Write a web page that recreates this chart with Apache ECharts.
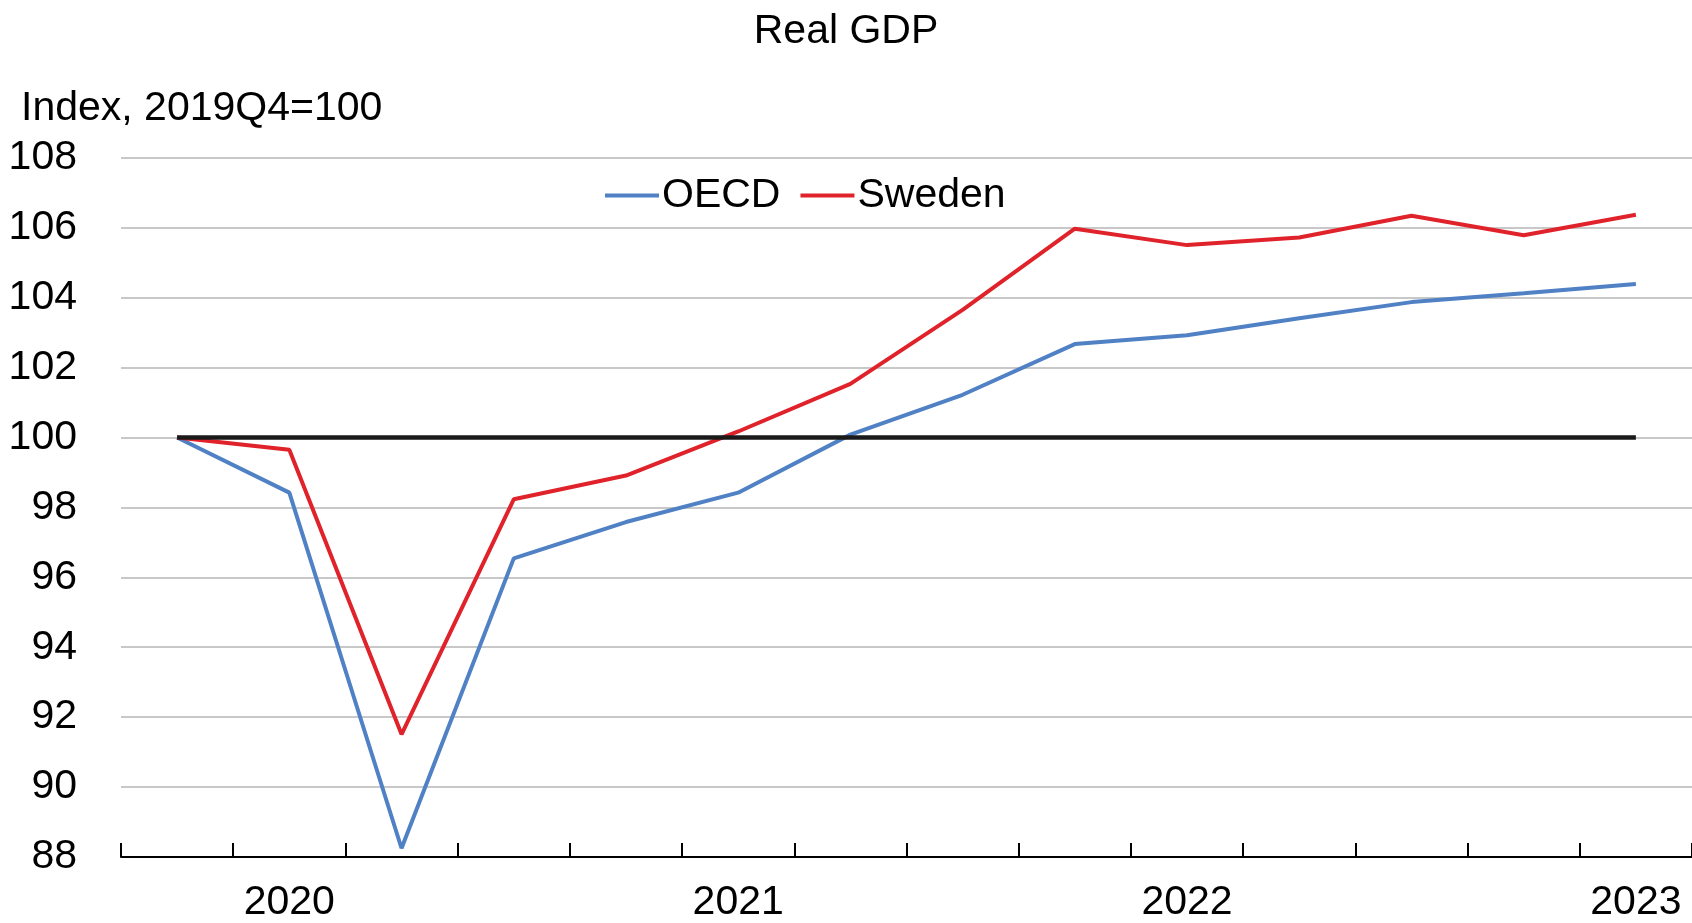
<!DOCTYPE html>
<html>
<head>
<meta charset="utf-8">
<title>Real GDP</title>
<script src="https://cdn.jsdelivr.net/npm/echarts@6/dist/echarts.min.js"></script>
<style>
  html, body { margin: 0; padding: 0; background: #fff; }
  #myChart { width: 1692px; height: 923px; }
</style>
</head>
<body>
<div id="myChart"></div>
<script>
const quarters = ['2019Q4', '2020Q1', '2020Q2', '2020Q3', '2020Q4', '2021Q1', '2021Q2',
  '2021Q3', '2021Q4', '2022Q1', '2022Q2', '2022Q3', '2022Q4', '2023Q1']
const oecd = [100, 98.42, 88.25, 96.54, 97.58, 98.42, 100.08, 101.22, 102.67, 102.92, 103.41, 103.87, 104.12, 104.39]
const sweden = [100, 99.65, 91.51, 98.23, 98.91, 100.17, 101.53, 103.65, 105.97, 105.5, 105.72, 106.34, 105.78, 106.37]
const baseline = [100, 100, 100, 100, 100, 100, 100, 100, 100, 100, 100, 100, 100, 100]

// Arial Narrow is not installed, so fall back to a plain sans at a smaller size
const font = '"Liberation Sans Narrow", "Arial Narrow", "Liberation Sans", Arial, sans-serif'
const fontSize = 41

const myChart = echarts.init(document.getElementById('myChart'))
const option = {
  animation: false,
  textStyle: { fontFamily: font },
  title: [
    {
      text: 'Real GDP',
      left: 'center',
      top: 6,
      textStyle: { fontFamily: font, fontSize: fontSize, fontWeight: 'normal', color: '#000' }
    },
    {
      text: 'Index, 2019Q4=100',
      left: 16,
      top: 83,
      textStyle: { fontFamily: font, fontSize: fontSize, fontWeight: 'normal', color: '#000' }
    }
  ],
  legend: {
    data: ['OECD', 'Sweden'],
    left: 600,
    top: 170,
    itemWidth: 54,
    itemHeight: 4,
    itemGap: 20,
    icon: 'rect',
    textStyle: { fontFamily: font, fontSize: fontSize, color: '#000', padding: [0, 0, 0, -2] }
  },
  grid: {
    left: 121,
    right: 0,
    top: 157.7,
    bottom: 65.3,
    containLabel: false
  },
  xAxis: {
    type: 'category',
    data: quarters,
    boundaryGap: true,
    axisLine: { show: true, lineStyle: { color: '#000', width: 2 } },
    axisTick: { show: true, inside: true, length: 14, interval: 0, lineStyle: { color: '#000', width: 2 } },
    axisLabel: {
      interval: function (index, value) { return value.endsWith('Q1') },
      formatter: function (value) { return value.slice(0, 4) },
      fontFamily: font,
      fontSize: fontSize,
      color: '#000',
      margin: 25
    }
  },
  yAxis: {
    type: 'value',
    min: 88,
    max: 108,
    interval: 2,
    axisLine: { show: false },
    axisTick: { show: false },
    splitLine: { lineStyle: { color: '#c8c8c8', width: 2 } },
    axisLabel: { fontFamily: font, fontSize: fontSize, color: '#000', margin: 44 }
  },
  series: [
    {
      name: 'OECD',
      type: 'line',
      data: oecd,
      color: '#4f81c4',
      symbol: 'none',
      lineStyle: { width: 4 }
    },
    {
      name: 'Sweden',
      type: 'line',
      data: sweden,
      color: '#e0232b',
      symbol: 'none',
      lineStyle: { width: 4 }
    },
    {
      name: 'base',
      type: 'line',
      data: baseline,
      color: '#1a1a1a',
      symbol: 'none',
      lineStyle: { width: 4.5 },
      z: 3
    }
  ]
}
myChart.setOption(option)
</script>
</body>
</html>
